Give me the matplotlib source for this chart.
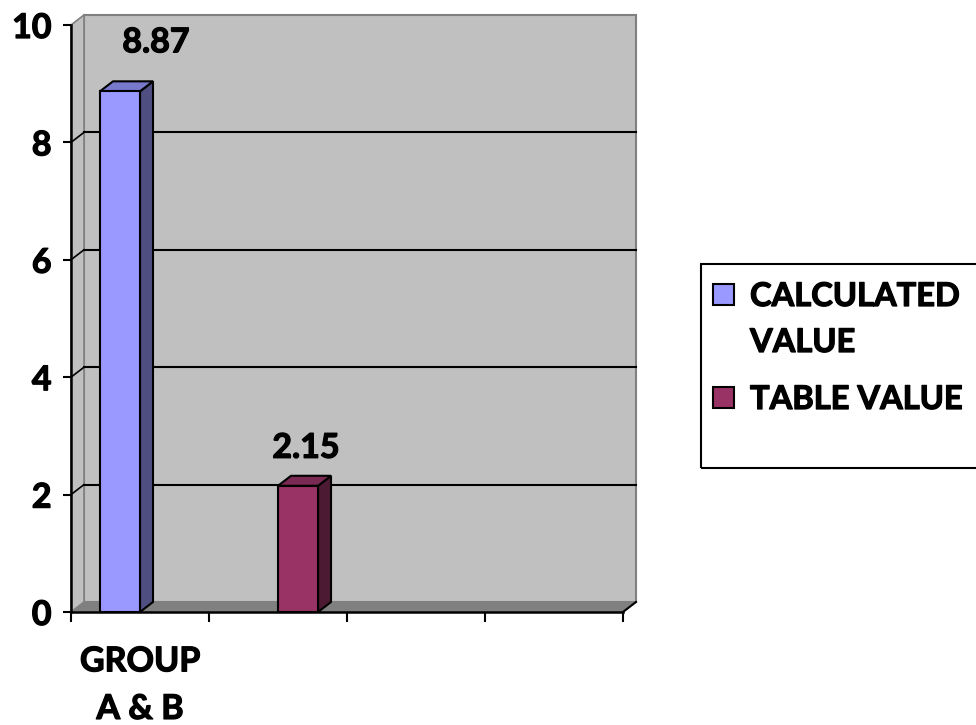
import matplotlib
matplotlib.use("Agg")
import matplotlib.pyplot as plt
import matplotlib.patheffects as pe
from matplotlib.patches import Rectangle, Polygon
from matplotlib.lines import Line2D

# data
categories = ["GROUP\nA & B", "", "", ""]
series_names = ["CALCULATED\nVALUE", "TABLE VALUE"]
series_values = [8.87, 2.15]
y_ticks = [0, 2, 4, 6, 8, 10]

# styling
front_colors = ["#9999FF", "#993366"]
side_colors = ["#4F4F82", "#4D1A33"]
top_colors = ["#7878CC", "#7A2952"]
wall_color = "#C0C0C0"
floor_color = "#808080"
bar_centers = [0.355, 1.645]
bar_width = 0.29
label_offsets = [(36, 49), (8, 38)]
depth_px = (13, 10)
fs = 24.5
heavy = [pe.withStroke(linewidth=0.9, foreground="black")]

plt.rcParams["font.family"] = ["Lato", "DejaVu Sans"]
plt.rcParams["font.weight"] = "bold"

W, H = 976, 725
fig = plt.figure(figsize=(W / 100, H / 100), dpi=100)
ax = fig.add_axes([71 / W, 113 / H, 552 / W, 587 / H])
ax.set_xlim(0, len(categories))
ax.set_ylim(0, 10)
ax.patch.set_visible(False)

# convert the fixed pixel depth of the 3d walls into data units
bb = ax.get_window_extent()
dx = depth_px[0] * len(categories) / bb.width
dy = depth_px[1] * 10 / bb.height
xmax = len(categories)

# back wall, side wall and floor
ax.add_patch(Rectangle((dx, dy), xmax, 10, facecolor=wall_color,
                       edgecolor=floor_color, lw=1.5, clip_on=False, zorder=0))
ax.add_patch(Polygon([(0, 0), (0, 10), (dx, 10 + dy), (dx, dy)], closed=True,
                     facecolor=wall_color, edgecolor=floor_color, lw=1.2,
                     clip_on=False, zorder=0.5))
ax.add_patch(Polygon([(0, 0), (xmax, 0), (xmax + dx, dy), (dx, dy)], closed=True,
                     facecolor=floor_color, edgecolor="none",
                     clip_on=False, zorder=0.6))
ax.add_line(Line2D([xmax, xmax + dx], [0, dy], color="black", lw=1.5,
                   clip_on=False, zorder=3))

# gridlines on the back wall plus their diagonals on the side wall
for t in y_ticks[1:-1]:
    ax.add_line(Line2D([dx, xmax + dx], [t + dy, t + dy], color="black",
                       lw=1.5, clip_on=False, zorder=0.7))
    ax.add_line(Line2D([0, dx], [t, t + dy], color="black", lw=1.2,
                       clip_on=False, zorder=0.7))

# 3d columns
for i, v in enumerate(series_values):
    x0 = bar_centers[i] - bar_width / 2
    x1 = bar_centers[i] + bar_width / 2
    ax.add_patch(Polygon([(x1, 0), (x1, v), (x1 + dx, v + dy), (x1 + dx, dy)],
                         closed=True, facecolor=side_colors[i], edgecolor="black",
                         lw=1.5, clip_on=False, zorder=2))
    ax.add_patch(Polygon([(x0, v), (x1, v), (x1 + dx, v + dy), (x0 + dx, v + dy)],
                         closed=True, facecolor=top_colors[i], edgecolor="black",
                         lw=1.5, clip_on=False, zorder=2))
    ax.add_patch(Rectangle((x0, 0), bar_width, v, facecolor=front_colors[i],
                           edgecolor="black", lw=1.5, clip_on=False, zorder=2.1))
    ax.annotate(f"{v:.2f}", xy=(bar_centers[i], v), xytext=label_offsets[i],
                textcoords="offset pixels", ha="center", va="center",
                fontsize=fs, path_effects=heavy)

# axes
for s in ["top", "right"]:
    ax.spines[s].set_visible(False)
for s in ["left", "bottom"]:
    ax.spines[s].set_linewidth(1.8)
    ax.spines[s].set_zorder(3)
ax.set_yticks(y_ticks)
ax.set_yticklabels([str(t) for t in y_ticks], fontsize=fs)
ax.tick_params(axis="y", direction="out", length=6, width=1.5, pad=8)
ax.set_xticks(range(len(categories) + 1))
ax.set_xticklabels([""] * (len(categories) + 1))
ax.tick_params(axis="x", which="major", direction="out", length=7, width=1.5)
ax.set_xticks([i + 0.5 for i in range(len(categories))], minor=True)
ax.set_xticklabels(categories, minor=True, fontsize=fs, linespacing=1.6)
ax.tick_params(axis="x", which="minor", length=0, pad=24)
for lbl in ax.get_yticklabels() + ax.get_xticklabels(minor=True):
    lbl.set_path_effects(heavy)

# legend box with square keys, first key level with the first text line
fig.patches.append(Rectangle((701 / W, 1 - 468 / H), 0.4, 204 / H,
                             transform=fig.transFigure, facecolor="none",
                             edgecolor="black", lw=1.5))
key_tops = [284, 387]
key_size = 21
line_step = 46
for i, name in enumerate(series_names):
    fig.patches.append(Rectangle((713 / W, 1 - (key_tops[i] + key_size) / H),
                                 key_size / W, key_size / H,
                                 transform=fig.transFigure,
                                 facecolor=front_colors[i], edgecolor="black",
                                 lw=1.5))
    for j, line in enumerate(name.split("\n")):
        fig.text(750 / W, 1 - (key_tops[i] + 22 + j * line_step) / H, line,
                 ha="left", va="baseline", fontsize=23.5, path_effects=heavy)

fig.savefig("out.png", dpi=100)
